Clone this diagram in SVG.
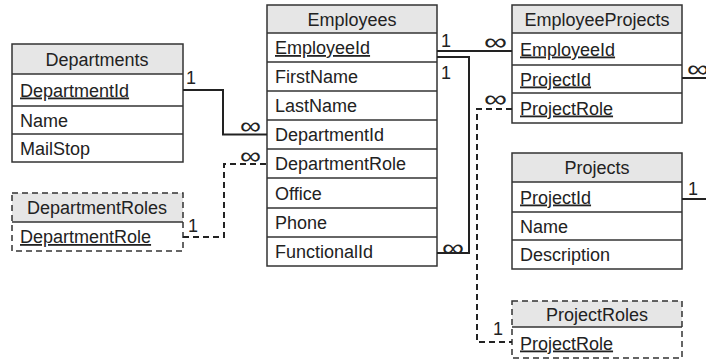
<svg xmlns="http://www.w3.org/2000/svg" width="706" height="361" viewBox="0 0 706 361">
<style>
text{font-family:"Liberation Sans",Arial,sans-serif;font-size:18px;fill:#222}
.h{text-anchor:middle}
.k{text-decoration:underline}
.hd{fill:#e6e6e6;stroke:none}
.box{fill:none;stroke:#333;stroke-width:1.5}
.dbox{fill:none;stroke:#333;stroke-width:1.5;stroke-dasharray:6,4}
.div{stroke:#333;stroke-width:1.5}
.c{fill:none;stroke:#222;stroke-width:2}
.cd{fill:none;stroke:#222;stroke-width:2;stroke-dasharray:6,4}
.inf{font-size:24px}
</style>
<rect width="706" height="361" fill="#fff"/>
<g id="Departments">
<rect class="hd" x="12" y="44" width="171" height="30"/>
<rect class="box" x="12" y="44" width="171" height="118"/>
<line class="div" x1="12" y1="74" x2="183" y2="74"/>
<line class="div" x1="12" y1="106" x2="183" y2="106"/>
<line class="div" x1="12" y1="134" x2="183" y2="134"/>
<text class="h" x="97" y="65.5">Departments</text>
<text class="k" x="20" y="96.5">DepartmentId</text>
<text x="20" y="126.5">Name</text>
<text x="20" y="154.5">MailStop</text>
</g>
<g id="DepartmentRoles">
<rect class="hd" x="12" y="193" width="171" height="29"/>
<rect class="dbox" x="12" y="193" width="171" height="58"/>
<line class="div" x1="12" y1="222" x2="183" y2="222"/>
<text class="h" x="97" y="214">DepartmentRoles</text>
<text class="k" x="20" y="243">DepartmentRole</text>
</g>
<g id="Employees">
<rect class="hd" x="267" y="5" width="170" height="28"/>
<rect class="box" x="267" y="5" width="170" height="261"/>
<line class="div" x1="267" y1="33" x2="437" y2="33"/>
<line class="div" x1="267" y1="62" x2="437" y2="62"/>
<line class="div" x1="267" y1="91" x2="437" y2="91"/>
<line class="div" x1="267" y1="120" x2="437" y2="120"/>
<line class="div" x1="267" y1="149" x2="437" y2="149"/>
<line class="div" x1="267" y1="178" x2="437" y2="178"/>
<line class="div" x1="267" y1="208" x2="437" y2="208"/>
<line class="div" x1="267" y1="237" x2="437" y2="237"/>
<text class="h" x="352" y="25.5">Employees</text>
<text class="k" x="275" y="54">EmployeeId</text>
<text x="275" y="83">FirstName</text>
<text x="275" y="112">LastName</text>
<text x="275" y="141">DepartmentId</text>
<text x="275" y="170">DepartmentRole</text>
<text x="275" y="199.5">Office</text>
<text x="275" y="229">Phone</text>
<text x="275" y="258">FunctionalId</text>
</g>
<g id="EmployeeProjects">
<rect class="hd" x="512" y="5" width="170" height="28"/>
<rect class="box" x="512" y="5" width="170" height="118"/>
<line class="div" x1="512" y1="33" x2="682" y2="33"/>
<line class="div" x1="512" y1="65" x2="682" y2="65"/>
<line class="div" x1="512" y1="93" x2="682" y2="93"/>
<text class="h" x="597" y="25.5">EmployeeProjects</text>
<text class="k" x="520" y="55.5">EmployeeId</text>
<text class="k" x="520" y="85.5">ProjectId</text>
<text class="k" x="520" y="114.5">ProjectRole</text>
</g>
<g id="Projects">
<rect class="hd" x="512" y="153" width="170" height="29"/>
<rect class="box" x="512" y="153" width="170" height="116"/>
<line class="div" x1="512" y1="182" x2="682" y2="182"/>
<line class="div" x1="512" y1="212" x2="682" y2="212"/>
<line class="div" x1="512" y1="240" x2="682" y2="240"/>
<text class="h" x="597" y="174">Projects</text>
<text class="k" x="520" y="203.5">ProjectId</text>
<text x="520" y="232.5">Name</text>
<text x="520" y="261">Description</text>
</g>
<g id="ProjectRoles">
<rect class="hd" x="512" y="301" width="170" height="26"/>
<rect class="dbox" x="512" y="301" width="170" height="57"/>
<line class="div" x1="512" y1="327" x2="682" y2="327"/>
<text class="h" x="597" y="320.5">ProjectRoles</text>
<text class="k" x="520" y="349.5">ProjectRole</text>
</g>
<g id="connectors">
<polyline class="c" points="183,90 223,90 223,134.5 267,134.5"/>
<polyline class="cd" points="183,237 224,237 224,164 267,164"/>
<line class="c" x1="437" y1="51" x2="512" y2="51"/>
<polyline class="c" points="437,57 469,57 469,253 437,253"/>
<polyline class="cd" points="512,109 477,109 477,342 512,342"/>
<line class="c" x1="682" y1="78" x2="706" y2="78"/>
<line class="c" x1="682" y1="199" x2="706" y2="199"/>
<text x="186" y="84">1</text>
<text x="188" y="232">1</text>
<text x="441" y="47">1</text>
<text x="441" y="79">1</text>
<text x="493" y="335">1</text>
<text x="688" y="195">1</text>
<text class="inf" x="240" y="134" textLength="21" lengthAdjust="spacingAndGlyphs">∞</text>
<text class="inf" x="240" y="164" textLength="21" lengthAdjust="spacingAndGlyphs">∞</text>
<text class="inf" x="484" y="50" textLength="23" lengthAdjust="spacingAndGlyphs">∞</text>
<text class="inf" x="484" y="107" textLength="23" lengthAdjust="spacingAndGlyphs">∞</text>
<text class="inf" x="442" y="256" textLength="22" lengthAdjust="spacingAndGlyphs">∞</text>
<text class="inf" x="687" y="77" textLength="22" lengthAdjust="spacingAndGlyphs">∞</text>
</g>
</svg>
